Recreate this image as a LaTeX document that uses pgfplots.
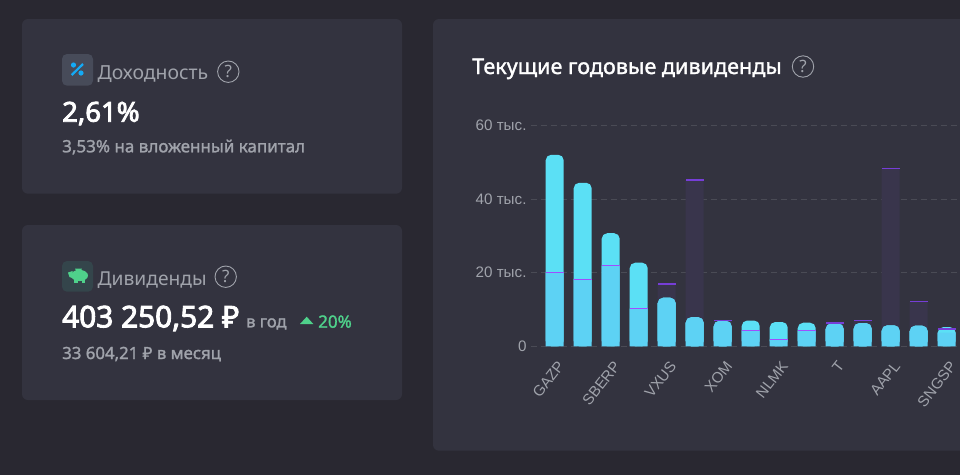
\documentclass[border=0pt]{standalone}
\usepackage{pgfplots}
\usepackage{pgfplotstable}
\pgfplotsset{compat=1.18}
\usepackage{fontspec}
\setmainfont{Liberation Sans}
\newfontfamily\nsans{Noto Sans}
\newfontfamily\nbold{Noto Sans}[FakeBold=1.5]
\newfontfamily\nheavy{Noto Sans}[FakeBold=3]
\definecolor{bg}{RGB}{41,40,49}
\definecolor{card}{RGB}{51,51,63}
\definecolor{muted}{RGB}{160,163,171}
\definecolor{bright}{RGB}{91,224,245}
\definecolor{dim}{RGB}{93,210,244}
\definecolor{shadowbar}{RGB}{57,53,76}
\definecolor{capl}{RGB}{160,77,255}
\definecolor{capd}{RGB}{118,62,215}
\definecolor{gridc}{RGB}{74,75,85}
\definecolor{green1}{RGB}{79,209,139}
\definecolor{blue1}{RGB}{20,170,245}
\newcommand{\T}[5]{\node[anchor=base west,inner sep=0pt,text=#4] at (#1,#2) {\nsans\fontsize{#3}{#3}\selectfont #5};}
\newcommand{\B}[5]{\node[anchor=base west,inner sep=0pt,text=#4] at (#1,#2) {\nbold\fontsize{#3}{#3}\selectfont #5};}
\newcommand{\HH}[5]{\node[anchor=base west,inner sep=0pt,text=#4] at (#1,#2) {\nheavy\fontsize{#3}{#3}\selectfont #5};}
\newcommand{\helpc}[2]{\draw[muted,line width=0.9pt] (#1,#2) circle (10.7);
 \node[text=muted,inner sep=0pt] at (#1,#2) {\nsans\fontsize{17}{17}\selectfont ?};}
\pgfplotstableread{
x v t low
0 52.0 20.0 20.0
1 44.4 18.3 18.3
2 30.7 21.9 21.9
3 22.7 10.2 10.2
4 13.2 16.9 11.7
5 7.9 45.1 6.4
6 6.9 7.06 5.4
7 7.0 4.3 4.3
8 6.6 1.9 1.9
9 6.4 4.25 4.25
10 6.2 6.3 4.7
11 6.3 7.0 4.8
12 5.7 48.3 4.2
13 5.6 12.2 4.1
14 5.2 4.7 3.7
}\divdata
\begin{document}
\begin{tikzpicture}
\useasboundingbox (0pt,0pt) rectangle (960pt,-475pt);
\clip (0pt,0pt) rectangle (960pt,-475pt);
\begin{scope}[x=1pt,y=-1pt]
\fill[bg] (0,0) rectangle (960,475);
\fill[card,rounded corners=6] (22,19) rectangle (402,193.7);
\fill[card,rounded corners=6] (22,225) rectangle (402,400);
\fill[card,rounded corners=6] (433,19) rectangle (990,450.7);
% card 1
\fill[fill={rgb,255:red,71;green,75;blue,89},rounded corners=5] (62,54) rectangle (93,85.7);
\draw[blue1,line width=2.2pt] (71.7,75) -- (83,64);
\fill[blue1] (73.5,65) circle (2.6);
\fill[blue1] (81,73) circle (2.6);
\T{97.5}{79.5}{19.4}{muted}{Доходность}
\helpc{228.3}{71.7}
\HH{62}{121.7}{27.5}{white}{2,61\%}
\B{62}{152.3}{17}{muted}{3,53\% на вложенный капитал}
% card 2
\fill[fill={rgb,255:red,52;green,69;blue,75},rounded corners=5] (62,261) rectangle (93,291.7);
\fill[green1] (79.5,275.5) ellipse (8.5 and 5.6);
\fill[green1] (74,279) rectangle (77.5,282.7);
\fill[green1] (81.5,279) rectangle (85,282.7);
\fill[green1] (68,272.5) -- (72.5,271) -- (72.5,278) -- (69.5,277) -- cycle;
\fill[green1] (75,268.5) arc (180:0:3.5) -- cycle;
\T{97.5}{285.5}{19.2}{muted}{Дивиденды}
\helpc{225.7}{276.7}
\HH{62}{327.3}{29.8}{white}{403 250,52 ₽}
\B{246}{327.3}{16.5}{muted}{в год}
\fill[green1] (300,324) -- (306.7,316.7) -- (313.3,324) -- cycle;
\B{318}{327.7}{17}{green1}{20\%}
\B{62}{359}{16.8}{muted}{33 604,21 ₽ в месяц}
% card 3
\B{472}{74}{21.6}{white}{Текущие годовые дивиденды}
\helpc{803}{66.5}
\end{scope}
\begin{axis}[
  at={(530.7pt,-346.3pt)}, anchor=south west,
  scale only axis, width=429.3pt, height=221pt,
  xmin=-0.857, xmax=14.475, ymin=0, ymax=60,
  clip=false,
  axis line style={draw=none},
  major tick length=0pt,
  ytick={0,20,40,60},
  yticklabels={0,20 тыс.,40 тыс.,60 тыс.},
  xtick={0,2,4,6,8,10,12,14},
  xticklabels={GAZP,SBERP,VXUS,XOM,NLMK,T,AAPL,SNGSP},
  ymajorgrids,
  grid style={gridc,line width=0.9pt,dash pattern=on 6pt off 4pt},
  yticklabel style={text=muted,font=\fontsize{15.2}{15.2}\selectfont,anchor=east,inner sep=0pt,xshift=-4pt},
  xticklabel style={text=muted,font=\fontsize{15}{15}\selectfont,rotate=52,anchor=north east,inner sep=0pt,yshift=-10pt,xshift=-9.5pt},
  ybar, bar width=18pt, bar shift=0pt,
]
\addplot[fill=shadowbar,draw=none] table[x=x,y=t] {\divdata};
\addplot[fill=bright,draw=none,rounded corners=5.5pt] table[x=x,y=v] {\divdata};
\addplot[fill=dim,draw=none,rounded corners=5.5pt] coordinates {(4,13.2)(5,7.9)(6,6.9)(10,6.2)(11,6.3)(12,5.7)(13,5.6)};
\addplot[fill=dim,draw=none] table[x=x,y=low] {\divdata};
\addplot[only marks,mark=-,mark size=9pt,mark options={capl,line width=0.8pt}] coordinates {(0,20.0)(1,18.3)(2,21.9)(3,10.2)(7,4.3)(8,1.9)(9,4.25)};
\addplot[only marks,mark=-,mark size=9pt,mark options={capd,line width=1.4pt}] coordinates {(4,16.9)(5,45.1)(6,7.06)(10,6.3)(11,7.0)(12,48.3)(13,12.2)(14,4.7)};
\end{axis}
\end{tikzpicture}
\end{document}
